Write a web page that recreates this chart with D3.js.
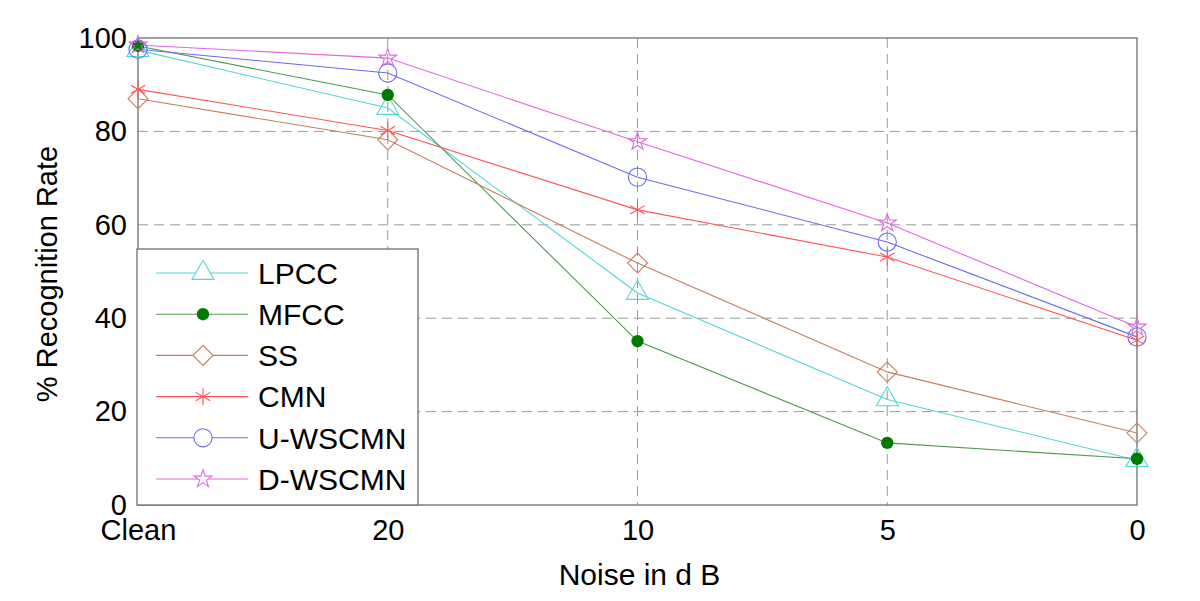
<!DOCTYPE html>
<html>
<head>
<meta charset="utf-8">
<script src="https://cdn.jsdelivr.net/npm/d3@7"></script>
<style>
  body { margin: 0; background: #fff; }
  svg text { font-family: "Liberation Sans", Arial, sans-serif; fill: #000; }
</style>
</head>
<body>
<svg id="chart" width="1200" height="601"></svg>
<script>
const noiseLevels = ['Clean', '20', '10', '5', '0'];
const yTicks = [0, 20, 40, 60, 80, 100];

const lpcc = [97.4, 85.0, 45.4, 22.6, 9.6];
const mfcc = [98.3, 87.8, 35.1, 13.3, 9.9];
const ss = [87.0, 78.2, 51.8, 28.5, 15.4];
const cmn = [89.0, 80.2, 63.2, 53.1, 35.3];
const uwscmn = [97.6, 92.5, 70.2, 56.3, 36.0];
const dwscmn = [98.5, 95.7, 77.8, 60.4, 38.1];

const seriesNames = ['LPCC', 'MFCC', 'SS', 'CMN', 'U-WSCMN', 'D-WSCMN'];
const seriesValues = [lpcc, mfcc, ss, cmn, uwscmn, dwscmn];

const lineColors = ['#52d6d6', '#4f9a4f', '#c4805e', '#ff5555', '#6a6af0', '#de6ade'];

const svg = d3.select('#chart');
const margin = { top: 38, right: 63, bottom: 96, left: 138 };
const innerWidth = 1200 - margin.left - margin.right;
const innerHeight = 601 - margin.top - margin.bottom;

const x = d3.scalePoint()
    .domain(noiseLevels)
    .range([0, innerWidth]);

const y = d3.scaleLinear()
    .domain([0, 100])
    .range([innerHeight, 0]);

const g = svg.append('g')
    .attr('transform', `translate(${margin.left}, ${margin.top})`);

// dashed grid
g.append('g')
    .selectAll('line')
    .data(noiseLevels.slice(1, -1))
    .join('line')
    .attr('x1', d => x(d)).attr('x2', d => x(d))
    .attr('y1', 0).attr('y2', innerHeight)
    .attr('stroke', '#9a9a9a')
    .attr('stroke-dasharray', '10,6');

g.append('g')
    .selectAll('line')
    .data(yTicks.slice(1, -1))
    .join('line')
    .attr('x1', 0).attr('x2', innerWidth)
    .attr('y1', d => y(d)).attr('y2', d => y(d))
    .attr('stroke', '#9a9a9a')
    .attr('stroke-dasharray', '10,6');

// frame
g.append('rect')
    .attr('width', innerWidth)
    .attr('height', innerHeight)
    .attr('fill', 'none')
    .attr('stroke', '#6e6e6e')
    .attr('stroke-width', 1.3);

// axes
const yAxis = g.append('g')
    .call(d3.axisLeft(y).tickValues(yTicks).tickSize(0).tickPadding(11));
yAxis.select('.domain').remove();
yAxis.selectAll('text').style('font-size', '29px')
    .attr('font-family', '"Liberation Sans", Arial, sans-serif');

const xAxis = g.append('g')
    .attr('transform', `translate(0, ${innerHeight})`)
    .call(d3.axisBottom(x).tickSize(0).tickPadding(14));
xAxis.select('.domain').remove();
xAxis.selectAll('text').style('font-size', '29px')
    .attr('font-family', '"Liberation Sans", Arial, sans-serif');

svg.append('text')
    .attr('x', margin.left + innerWidth / 2 + 2)
    .attr('y', 585)
    .attr('text-anchor', 'middle')
    .style('font-size', '30px')
    .text('Noise in d B');

svg.append('text')
    .attr('transform', 'translate(57, 274) rotate(-90)')
    .attr('text-anchor', 'middle')
    .style('font-size', '29px')
    .text('% Recognition Rate');

// markers
const diamond = d3.symbol().type(d3.symbolSquare).size(200);
const markers = [
    { path: d3.symbol().type(d3.symbolTriangle).size(210)(), fill: 'none', rot: 0 },
    { path: d3.symbol().type(d3.symbolCircle).size(120)(), fill: '#007a00', rot: 0 },
    { path: diamond(), fill: 'none', rot: 45 },
    { path: d3.symbol().type(d3.symbolAsterisk).size(200)(), fill: 'none', rot: 0 },
    { path: d3.symbol().type(d3.symbolCircle).size(260)(), fill: 'none', rot: 0 },
    { path: d3.symbol().type(d3.symbolStar).size(100)(), fill: 'none', rot: 0 }
];

const line = d3.line()
    .x((d, i) => x(noiseLevels[i]))
    .y(d => y(d));

seriesValues.forEach((vals, s) => {
    g.append('path')
        .datum(vals)
        .attr('d', line)
        .attr('fill', 'none')
        .attr('stroke', lineColors[s])
        .attr('stroke-width', 1.1);
});

seriesValues.forEach((vals, s) => {
    const m = markers[s];
    g.append('g')
        .selectAll('path')
        .data(vals)
        .join('path')
        .attr('d', m.path)
        .attr('transform', (d, i) => `translate(${x(noiseLevels[i])}, ${y(d)}) rotate(${m.rot})`)
        .attr('fill', m.fill)
        .attr('stroke', m.fill === 'none' ? lineColors[s] : 'none')
        .attr('stroke-width', 1.1);
});

// legend
const legend = svg.append('g');
legend.append('rect')
    .attr('x', 137).attr('y', 249)
    .attr('width', 281).attr('height', 256)
    .attr('fill', '#fff')
    .attr('stroke', '#6e6e6e')
    .attr('stroke-width', 1.3);

const rows = legend.selectAll('g.row')
    .data(seriesNames)
    .join('g')
    .attr('class', 'row')
    .attr('transform', (d, i) => `translate(0, ${273 + i * 41.2})`);

rows.append('line')
    .attr('x1', 156).attr('x2', 248)
    .attr('stroke', (d, i) => lineColors[i])
    .attr('stroke-width', 1.1);

rows.append('path')
    .attr('d', (d, i) => markers[i].path)
    .attr('transform', (d, i) => `translate(203, 0) rotate(${markers[i].rot})`)
    .attr('fill', (d, i) => markers[i].fill === 'none' ? '#fff' : markers[i].fill)
    .attr('stroke', (d, i) => markers[i].fill === 'none' ? lineColors[i] : 'none')
    .attr('stroke-width', 1.1);

rows.append('text')
    .attr('x', 258)
    .attr('dy', '0.36em')
    .style('font-size', '30px')
    .text(d => d);
</script>
</body>
</html>
